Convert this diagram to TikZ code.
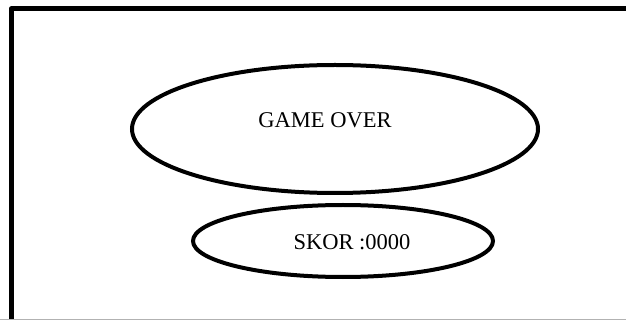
\documentclass[tikz,border=0pt]{standalone}
\usepackage{fontspec}
\setmainfont{Liberation Serif}
\usetikzlibrary{shapes.geometric,positioning}

\tikzset{
  screenbox/.style={ellipse, draw, line width=4pt, inner sep=0pt},
  screentext/.style={font=\fontsize{22.5}{27}\selectfont, inner sep=0pt},
}

\begin{document}
\begin{tikzpicture}[x=1pt, y=-1pt, line cap=round]
  \useasboundingbox (0,0) rectangle (626,320);
  \clip (0,0) rectangle (626,320);

  % frame of the screen
  \coordinate (framebl) at (11,340);
  \coordinate (frametl) at (11,9);
  \coordinate (frametr) at (640,9);
  \draw[line width=5pt, line join=round] (framebl) -- (frametl) -- (frametr);
  \coordinate (bottoml) at (0,319.5);
  \coordinate (bottomr) at (626,319.5);
  \draw[gray!60, line width=1pt] (bottoml) -- (bottomr);

  \node[screenbox, minimum width=406pt, minimum height=128pt] (gameover) at (335,129) {};
  \node[screentext] (gameovertxt) at ([xshift=-10pt, yshift=9pt]gameover.center) {GAME OVER};

  \node[screenbox, minimum width=300pt, minimum height=72pt] (skor) at (343,241) {};
  \node[screentext] (skortxt) at ([xshift=9pt, yshift=-1pt]skor.center) {SKOR :0000};
\end{tikzpicture}
\end{document}
